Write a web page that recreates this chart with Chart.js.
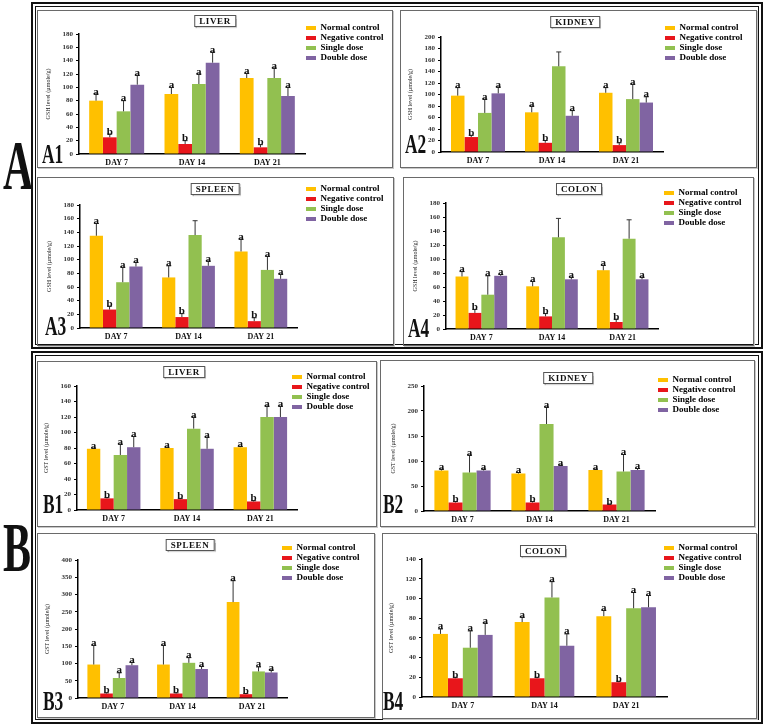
<!DOCTYPE html>
<html>
<head>
<meta charset="utf-8">
<script src="https://cdn.jsdelivr.net/npm/chart.js@4.4.0/dist/chart.umd.min.js"></script>
<style>
  body { margin: 0; background: #fff; width: 763px; height: 726px; position: relative; overflow: hidden; font-family: "Liberation Serif", serif; }
  .outer { position: absolute; box-sizing: border-box; border: 2px solid #111; box-shadow: inset 0 0 0 2px #fff, inset 0 0 0 3px #111; }
  .panel { position: absolute; box-sizing: border-box; border: 1px solid #6a6a6a; box-shadow: 1px 1px 0 #c8c8c8; }
  .panel canvas { position: absolute; left: 0; top: 0; }
  .ttl { position: absolute; transform: translateX(-50%); border: 1px solid #555; box-shadow: 1px 1px 1px #aaa; padding: 0 4px; font: bold 9px/10px "Liberation Serif", serif; letter-spacing: .6px; background: #fff; color: #111; white-space: nowrap; }
  .plabel { position: absolute; font: bold 28px/28px "Liberation Serif", serif; transform: scaleX(.62); transform-origin: 0 0; color: #111; }
  .big { position: absolute; font: bold 70px/70px "Liberation Serif", serif; transform: scaleX(.6); transform-origin: 0 0; color: #111; }
</style>
</head>
<body>
<div class="outer" style="left:31px;top:2px;width:732px;height:347px"></div>
<div class="outer" style="left:31px;top:351px;width:732px;height:373px"></div>
<div class="big" style="left:3px;top:131px">A</div>
<div class="big" style="left:3px;top:513px">B</div>
<div id="wrap"></div>
<script>
const days = ['DAY 7', 'DAY 14', 'DAY 21'];
const groups = ['Normal control', 'Negative control', 'Single dose', 'Double dose'];
const colors = ['#FFC000', '#E8161B', '#92C050', '#8064A2'];

// GSH (A panels): rows = normal, negative, single, double
const gshLiverMean = [[80, 90, 114], [25, 15, 10], [64, 105, 114], [104, 137, 87]];
const gshLiverSd = [[10, 10, 7], [5, 5, 4], [16, 15, 15], [14, 16, 13]];
const gshLiverSig = [['a', 'a', 'a'], ['b', 'b', 'b'], ['a', 'a', 'a'], ['a', 'a', 'a']];

const gshKidneyMean = [[98, 69, 103], [26, 16, 12], [68, 149, 92], [102, 63, 86]];
const gshKidneySd = [[14, 11, 9], [3, 4, 4], [24, 25, 26], [11, 9, 10]];
const gshKidneySig = [['a', 'a', 'a'], ['b', 'b', 'b'], ['a', '', 'a'], ['a', 'a', 'a']];

const gshSpleenMean = [[135, 74, 112], [27, 16, 10], [67, 136, 85], [90, 91, 72]];
const gshSpleenSd = [[18, 17, 18], [5, 5, 5], [22, 21, 20], [6, 7, 7]];
const gshSpleenSig = [['a', 'a', 'a'], ['b', 'b', 'b'], ['a', '', 'a'], ['a', 'a', 'a']];

const gshColonMean = [[75, 61, 84], [23, 18, 10], [49, 131, 129], [76, 71, 71]];
const gshColonSd = [[7, 7, 7], [5, 4, 4], [27, 27, 27], [2, 3, 3]];
const gshColonSig = [['a', 'a', 'a'], ['b', 'b', 'b'], ['a', '', ''], ['a', 'a', 'a']];

// GST (B panels)
const gstLiverMean = [[79, 80, 81], [15, 14, 11], [71, 105, 120], [81, 79, 120]];
const gstLiverSd = [[1, 1, 1], [1, 1, 1], [14, 15, 14], [14, 15, 14]];
const gstLiverSig = [['a', 'a', 'a'], ['b', 'b', 'b'], ['a', 'a', 'a'], ['a', 'a', 'a']];

const gstKidneyMean = [[81, 75, 82], [17, 17, 13], [77, 174, 79], [81, 90, 82]];
const gstKidneySd = [[3, 2, 2], [2, 2, 1], [35, 34, 34], [3, 2, 3]];
const gstKidneySig = [['a', 'a', 'a'], ['b', 'b', 'b'], ['a', 'a', 'a'], ['a', 'a', 'a']];

const gstSpleenMean = [[97, 97, 278], [13, 13, 11], [58, 102, 77], [95, 84, 74]];
const gstSpleenSd = [[56, 56, 62], [2, 2, 2], [15, 15, 13], [8, 8, 7]];
const gstSpleenSig = [['a', 'a', 'a'], ['b', 'b', 'b'], ['a', 'a', 'a'], ['a', 'a', 'a']];

const gstColonMean = [[64, 76, 82], [19, 19, 15], [50, 101, 90], [63, 52, 91]];
const gstColonSd = [[5, 5, 6], [1, 1, 1], [17, 16, 16], [12, 12, 12]];
const gstColonSig = [['a', 'a', 'a'], ['b', 'b', 'b'], ['a', 'a', 'a'], ['a', 'a', 'a']];

const gshTitle = 'GSH level (µmole/g)';
const gstTitle = 'GST level (µmole/g)';

const panels = [
  { id: 'A1', title: 'LIVER', yTitle: gshTitle, mean: gshLiverMean, sd: gshLiverSd, sig: gshLiverSig, yMax: 180, yStep: 20 },
  { id: 'A2', title: 'KIDNEY', yTitle: gshTitle, mean: gshKidneyMean, sd: gshKidneySd, sig: gshKidneySig, yMax: 200, yStep: 20 },
  { id: 'A3', title: 'SPLEEN', yTitle: gshTitle, mean: gshSpleenMean, sd: gshSpleenSd, sig: gshSpleenSig, yMax: 180, yStep: 20 },
  { id: 'A4', title: 'COLON', yTitle: gshTitle, mean: gshColonMean, sd: gshColonSd, sig: gshColonSig, yMax: 180, yStep: 20 },
  { id: 'B1', title: 'LIVER', yTitle: gstTitle, mean: gstLiverMean, sd: gstLiverSd, sig: gstLiverSig, yMax: 160, yStep: 20 },
  { id: 'B2', title: 'KIDNEY', yTitle: gstTitle, mean: gstKidneyMean, sd: gstKidneySd, sig: gstKidneySig, yMax: 250, yStep: 50 },
  { id: 'B3', title: 'SPLEEN', yTitle: gstTitle, mean: gstSpleenMean, sd: gstSpleenSd, sig: gstSpleenSig, yMax: 400, yStep: 50 },
  { id: 'B4', title: 'COLON', yTitle: gstTitle, mean: gstColonMean, sd: gstColonSd, sig: gstColonSig, yMax: 140, yStep: 20 }
];

// page geometry of each panel: frame box, plot area (axis x, top, bottom, right), legend, title, label
const frames = {
  A1: { box: [37, 10, 393, 168], plot: [79, 34, 154, 305], legend: [306, 28], title: [215, 15], label: [42, 163] },
  A2: { box: [400, 10, 757, 168], plot: [441, 37, 152, 663], legend: [665, 28], title: [575, 16], label: [405, 153] },
  A3: { box: [37, 177, 394, 346], plot: [80, 205, 328, 297], legend: [306, 189], title: [215, 183], label: [45, 335] },
  A4: { box: [403, 177, 754, 346], plot: [446, 203, 329, 658], legend: [664, 193], title: [579, 183], label: [408, 337] },
  B1: { box: [37, 361, 377, 527], plot: [77, 386, 510, 297], legend: [292, 377], title: [184, 366], label: [43, 513] },
  B2: { box: [380, 360, 755, 527], plot: [424, 386, 511, 655], legend: [658, 380], title: [568, 372], label: [383, 513] },
  B3: { box: [37, 533, 375, 718], plot: [78, 560, 698, 287], legend: [282, 548], title: [190, 539], label: [43, 710] },
  B4: { box: [382, 533, 757, 719], plot: [422, 559, 697, 667], legend: [664, 548], title: [543, 545], label: [383, 710] }
};

Chart.defaults.font.family = '"Liberation Serif", serif';
Chart.defaults.color = '#222';

// upper-only error bars plus significance letters
const errorBars = {
  id: 'errorBars',
  afterDatasetsDraw(chart) {
    const ctx = chart.ctx;
    const y = chart.scales.y;
    chart.data.datasets.forEach((ds, di) => {
      chart.getDatasetMeta(di).data.forEach((bar, i) => {
        const top = y.getPixelForValue(ds.data[i] + ds.sd[i]);
        ctx.save();
        ctx.strokeStyle = '#333';
        ctx.lineWidth = 1;
        ctx.beginPath();
        ctx.moveTo(bar.x, bar.y);
        ctx.lineTo(bar.x, top);
        ctx.moveTo(bar.x - 2.5, top);
        ctx.lineTo(bar.x + 2.5, top);
        ctx.stroke();
        if (ds.sig[i]) {
          ctx.fillStyle = '#111';
          ctx.font = 'bold 11px "Liberation Serif"';
          ctx.textAlign = 'center';
          ctx.textBaseline = 'alphabetic';
          ctx.fillText(ds.sig[i], bar.x, top + 0.5);
        }
        ctx.restore();
      });
    });
  }
};

const wrap = document.getElementById('wrap');

panels.forEach(p => {
  const f = frames[p.id];
  const [bl, bt, br, bb] = f.box;
  const div = document.createElement('div');
  div.className = 'panel';
  div.style.cssText = `left:${bl}px;top:${bt}px;width:${br - bl}px;height:${bb - bt}px`;
  const canvas = document.createElement('canvas');
  const w = br - bl - 2, h = bb - bt - 2;
  canvas.width = w;
  canvas.height = h;
  div.appendChild(canvas);
  wrap.appendChild(div);

  const ttl = document.createElement('div');
  ttl.className = 'ttl';
  ttl.textContent = p.title;
  ttl.style.left = f.title[0] + 'px';
  ttl.style.top = f.title[1] + 'px';
  wrap.appendChild(ttl);

  const lab = document.createElement('div');
  lab.className = 'plabel';
  lab.textContent = p.id;
  lab.style.left = f.label[0] + 'px';
  lab.style.top = (f.label[1] - 23.5) + 'px';
  wrap.appendChild(lab);

  const ox = bl + 1, oy = bt + 1;
  const yW = 34, xH = 14;
  const pad = {
    left: f.plot[0] - ox - yW,
    top: f.plot[1] - oy,
    bottom: oy + h - f.plot[2] - xH,
    right: ox + w - f.plot[3]
  };

  // move the legend to its spot right of the plot
  const legendSpot = {
    id: 'legendSpot',
    afterLayout(chart) {
      const lg = chart.legend;
      if (!lg) return;
      const x = f.legend[0] - ox - 1;
      const y = f.legend[1] - oy - 4.5 - 1;
      lg.left = x; lg.right = x + lg.width;
      lg.top = y; lg.bottom = y + lg.height;
    }
  };

  new Chart(canvas, {
    type: 'bar',
    data: {
      labels: days,
      datasets: groups.map((g, i) => ({
        label: g,
        data: p.mean[i],
        sd: p.sd[i],
        sig: p.sig[i],
        backgroundColor: colors[i],
        borderWidth: 0,
        categoryPercentage: 0.73,
        barPercentage: 1
      }))
    },
    options: {
      responsive: false,
      animation: false,
      layout: { padding: pad },
      plugins: {
        tooltip: { enabled: false },
        legend: {
          position: 'chartArea',
          align: 'start',
          labels: {
            boxWidth: 10,
            boxHeight: 4,
            padding: 1,
            color: '#000',
            font: { size: 9, weight: 'bold' }
          }
        }
      },
      scales: {
        x: {
          grid: { display: false, drawTicks: false, tickLength: 0 },
          border: { display: true, color: '#000', width: 1.5 },
          ticks: { color: '#111', padding: 4, font: { size: 8, weight: 'bold' } },
          afterFit(s) { s.height = xH; }
        },
        y: {
          min: 0,
          max: p.yMax,
          grid: { display: true, drawOnChartArea: false, drawTicks: true, tickLength: 3, color: '#000' },
          border: { display: true, color: '#000', width: 1.5 },
          ticks: { stepSize: p.yStep, color: '#333', padding: 3, font: { size: 7, weight: 'bold' } },
          title: { display: true, text: p.yTitle, color: '#222', padding: 0, font: { size: 6 } },
          afterFit(s) { s.width = yW; }
        }
      }
    },
    plugins: [errorBars, legendSpot]
  });
});
</script>
</body>
</html>
